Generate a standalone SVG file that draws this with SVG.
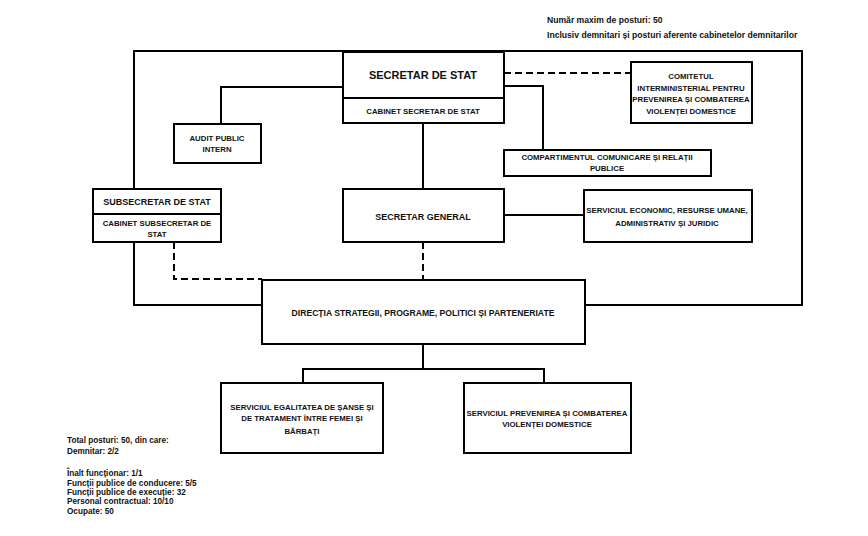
<svg xmlns="http://www.w3.org/2000/svg" width="868" height="536" viewBox="0 0 868 536">
<style>
  .box { fill: #fff; stroke: #000; stroke-width: 2; }
  .ln { fill: none; stroke: #000; stroke-width: 2; }
  .dash { fill: none; stroke: #000; stroke-width: 2; stroke-dasharray: 7 4; }
  text { font-family: "Liberation Sans", Arial, sans-serif; font-weight: bold; fill: #111; }
  .t { font-size: 7.8px; text-anchor: middle; }
  .note { font-size: 8.2px; }
  .notetop { font-size: 8.6px; }
</style>
<rect width="868" height="536" fill="#fff"/>

<g id="connectors">
  <rect class="ln" x="134" y="51" width="668" height="254"/>
  <polyline class="ln" points="343,87 221,87 221,124"/>
  <line class="ln" x1="423" y1="123" x2="423" y2="189"/>
  <polyline class="ln" points="504,86 543,86 543,150"/>
  <line class="dash" x1="504" y1="73" x2="631" y2="73"/>
  <line class="ln" x1="504" y1="215" x2="584" y2="215"/>
  <polyline class="ln" points="134,242 134,305 262,305"/>
  <polyline class="dash" points="174,242 174,279 262,279"/>
  <line class="dash" x1="423" y1="242" x2="423" y2="281"/>
  <polyline class="ln" points="423,344 423,369"/>
  <polyline class="ln" points="303,383 303,369 544,369 544,383"/>
</g>

<g id="secretar-de-stat">
  <rect class="box" x="343" y="52" width="161" height="71"/>
  <line class="ln" x1="343" y1="98" x2="504" y2="98"/>
  <text class="t" x="423" y="79" style="font-size:11px">SECRETAR DE STAT</text>
  <text class="t" x="423" y="114">CABINET SECRETAR DE STAT</text>
</g>

<g id="audit">
  <rect class="box" x="174" y="124" width="87" height="39"/>
  <text class="t" x="217" y="141">AUDIT PUBLIC</text>
  <text class="t" x="217" y="152">INTERN</text>
</g>

<g id="comitetul">
  <rect class="box" x="631" y="62" width="121" height="61"/>
  <text class="t" x="691" y="79">COMITETUL</text>
  <text class="t" x="691" y="91">INTERMINISTERIAL PENTRU</text>
  <text class="t" x="691" y="102">PREVENIREA ȘI COMBATEREA</text>
  <text class="t" x="691" y="114">VIOLENȚEI DOMESTICE</text>
</g>

<g id="compartimentul">
  <rect class="box" x="504" y="150" width="207" height="26"/>
  <text class="t" x="607" y="160">COMPARTIMENTUL COMUNICARE ȘI RELAȚII</text>
  <text class="t" x="607" y="171">PUBLICE</text>
</g>

<g id="subsecretar">
  <rect class="box" x="93" y="189" width="128" height="53"/>
  <line class="ln" x1="93" y1="214" x2="221" y2="214"/>
  <text class="t" x="157" y="205" style="font-size:9px">SUBSECRETAR DE STAT</text>
  <text class="t" x="157" y="226">CABINET SUBSECRETAR DE</text>
  <text class="t" x="157" y="237">STAT</text>
</g>

<g id="secretar-general">
  <rect class="box" x="343" y="189" width="161" height="53"/>
  <text class="t" x="423" y="220" style="font-size:9px">SECRETAR GENERAL</text>
</g>

<g id="serviciul-economic">
  <rect class="box" x="584" y="190" width="168" height="52"/>
  <text class="t" x="667" y="213">SERVICIUL ECONOMIC, RESURSE UMANE,</text>
  <text class="t" x="667" y="226">ADMINISTRATIV ȘI JURIDIC</text>
</g>

<g id="directia">
  <rect class="box" x="262" y="280" width="323" height="64"/>
  <text class="t" x="423" y="316" style="font-size:8.6px">DIRECȚIA STRATEGII, PROGRAME, POLITICI ȘI PARTENERIATE</text>
</g>

<g id="serviciul-egalitate">
  <rect class="box" x="221" y="383" width="162" height="70"/>
  <text class="t" x="302" y="410">SERVICIUL EGALITATEA DE ȘANSE ȘI</text>
  <text class="t" x="302" y="421">DE TRATAMENT ÎNTRE FEMEI ȘI</text>
  <text class="t" x="302" y="434">BĂRBAȚI</text>
</g>

<g id="serviciul-prevenire">
  <rect class="box" x="464" y="383" width="167" height="70"/>
  <text class="t" x="547" y="416">SERVICIUL PREVENIREA ȘI COMBATEREA</text>
  <text class="t" x="547" y="427">VIOLENȚEI DOMESTICE</text>
</g>

<g id="note-top">
  <text class="notetop" x="547" y="23">Număr maxim de posturi: 50</text>
  <text class="notetop" x="547" y="38">Inclusiv demnitari și posturi aferente cabinetelor demnitarilor</text>
</g>

<g id="note-bottom">
  <text class="note" x="67" y="443">Total posturi: 50, din care:</text>
  <text class="note" x="67" y="454">Demnitar: 2/2</text>
  <text class="note" x="67" y="476">Înalt funcționar: 1/1</text>
  <text class="note" x="67" y="486">Funcții publice de conducere: 5/5</text>
  <text class="note" x="67" y="495">Funcții publice de execuție: 32</text>
  <text class="note" x="67" y="504">Personal contractual: 10/10</text>
  <text class="note" x="67" y="514">Ocupate: 50</text>
</g>
</svg>
